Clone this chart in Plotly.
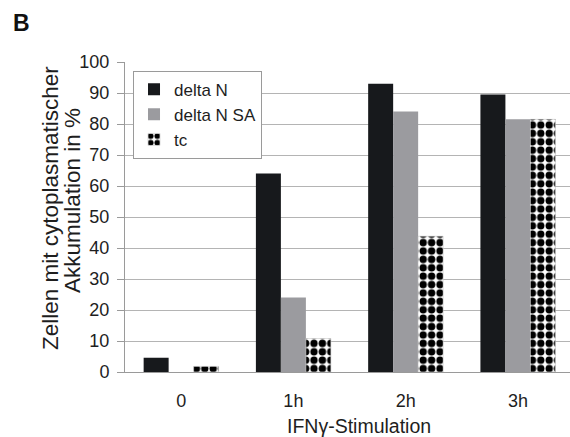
import plotly.graph_objects as go

categories = ["0", "1h", "2h", "3h"]
delta_n = [4.6, 64, 93, 89.5]
delta_n_sa = [0, 24, 84, 81.5]
tc = [1.8, 10.8, 43.8, 81.5]

y_ticks = list(range(0, 101, 10))

FONT = "Liberation Sans, Arial, sans-serif"

fig = go.Figure()
fig.add_trace(go.Bar(name="delta N", x=categories, y=delta_n,
                     marker=dict(color="#17191c", line=dict(width=0))))
fig.add_trace(go.Bar(name="delta N SA", x=categories, y=delta_n_sa,
                     marker=dict(color="#9b9b9f", line=dict(width=0))))
fig.add_trace(go.Bar(name="tc", x=categories, y=tc,
                     marker=dict(color="white",
                                 line=dict(width=0.6, color="#c8c8c8"),
                                 pattern=dict(shape=".", fgcolor="#000000", bgcolor="white",
                                              fgopacity=1, size=8.4, solidity=0.6,
                                              fillmode="replace"))))

fig.update_layout(
    width=570, height=437,
    margin=dict(l=125, r=0, t=62, b=65),
    paper_bgcolor="white", plot_bgcolor="white",
    barmode="group", bargap=0.332, bargroupgap=0,
    font=dict(family=FONT, size=18, color="#1e1e1e"),
    showlegend=True,
    legend=dict(x=0.018, y=0.972, xanchor="left", yanchor="top",
                bgcolor="white", bordercolor="#9a9a9a", borderwidth=1,
                font=dict(size=17, color="#1e1e1e"), itemwidth=30,
                tracegroupgap=0),
    xaxis=dict(range=[-0.5, 3.464], showline=True, linecolor="#9a9a9a", linewidth=1,
               ticks="", tickfont=dict(size=18), ticklabelstandoff=12,
               showgrid=False, zeroline=False),
    yaxis=dict(range=[0, 100], tickvals=y_ticks, showline=True, linecolor="#9a9a9a",
               linewidth=1, ticks="outside", ticklen=7, tickcolor="#9a9a9a",
               ticklabelstandoff=4,
               showgrid=True, gridcolor="#b4b4b4", gridwidth=1, zeroline=False,
               tickfont=dict(size=18)),
    annotations=[
        dict(text="<b>B</b>", xref="paper", yref="paper",
             x=(11 - 125) / 445, y=(372 - 23) / 310,
             xanchor="left", yanchor="middle", showarrow=False,
             font=dict(size=23, color="#111111")),
        dict(text="Zellen mit cytoplasmatischer", xref="paper", yref="paper",
             x=(50 - 125) / 445, y=(372 - 208) / 310, textangle=-90,
             xanchor="center", yanchor="middle", showarrow=False,
             font=dict(size=22.5, color="#1e1e1e")),
        dict(text="Akkumulation in %", xref="paper", yref="paper",
             x=(72 - 125) / 445, y=(372 - 201) / 310, textangle=-90,
             xanchor="center", yanchor="middle", showarrow=False,
             font=dict(size=22.5, color="#1e1e1e")),
        dict(text="IFNγ-Stimulation", xref="paper", yref="paper",
             x=(359 - 125) / 445, y=(372 - 426) / 310,
             xanchor="center", yanchor="middle", showarrow=False,
             font=dict(size=19.5, color="#1e1e1e")),
    ],
)

fig.write_html("out.html", config={"displayModeBar": False},
               post_script="document.body.style.margin='0';document.body.style.padding='0';")
